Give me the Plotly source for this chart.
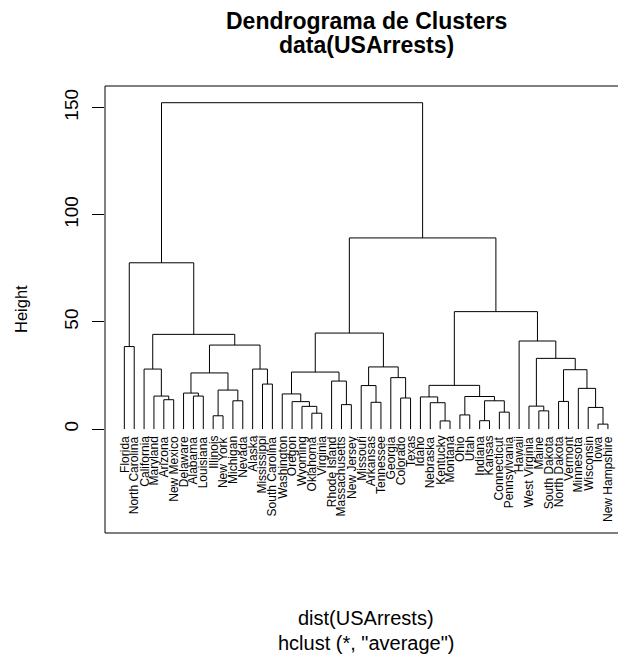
import plotly.graph_objects as go

# ---- data ----
leaf_labels = [
    "Florida", "North Carolina", "California", "Maryland", "Arizona", "New Mexico",
    "Delaware", "Alabama", "Louisiana", "Illinois", "New York", "Michigan", "Nevada",
    "Alaska", "Mississippi", "South Carolina", "Washington", "Oregon", "Wyoming",
    "Oklahoma", "Virginia", "Rhode Island", "Massachusetts", "New Jersey", "Missouri",
    "Arkansas", "Tennessee", "Georgia", "Colorado", "Texas", "Idaho", "Nebraska",
    "Kentucky", "Montana", "Ohio", "Utah", "Indiana", "Kansas", "Connecticut",
    "Pennsylvania", "Hawaii", "West Virginia", "Maine", "South Dakota", "North Dakota",
    "Vermont", "Minnesota", "Wisconsin", "Iowa", "New Hampshire",
]

# merges: a string is a leaf, an int is the index of an earlier merge
merge_left = [
    "Arizona", "Maryland", "California", "Alabama", "Delaware", "Illinois", "Michigan",
    5, 4, "Mississippi", "Alaska", 8, 2, "Florida", 13,
    "Oklahoma", "Wyoming", "Oregon", "Washington", "Massachusetts", "Rhode Island", 18,
    "Arkansas", "Missouri", "Colorado", "Georgia", 23, 21,
    "Kentucky", "Nebraska", "Idaho", "Ohio", "Indiana", "Connecticut", 32, 31, 30,
    "Maine", "West Virginia", "North Dakota", "Iowa", "Wisconsin", "Minnesota", 39, 38,
    "Hawaii", 36, 27, 14,
]
merge_right = [
    "New Mexico", 0, 1, "Louisiana", 3, "New York", "Nevada",
    6, 7, "South Carolina", 9, 10, 11, "North Carolina", 12,
    "Virginia", 15, 16, 17, "New Jersey", 19, 20,
    "Tennessee", 22, "Texas", 24, 25, 26,
    "Montana", 28, 29, "Utah", "Kansas", "Pennsylvania", 33, 34, 35,
    "South Dakota", 37, "Vermont", "New Hampshire", 40, 41, 42, 43,
    44, 45, 46, 47,
]
merge_height = [
    13.7, 15.4, 28.0, 15.4, 16.8, 6.2, 13.2,
    18.2, 26.2, 21.0, 28.0, 39.2, 44.2, 38.5, 77.6,
    7.4, 10.6, 12.8, 16.4, 11.4, 22.4, 26.6,
    12.5, 20.3, 14.5, 24.0, 29.0, 44.8,
    3.8, 12.3, 15.0, 6.6, 3.9, 7.9, 13.2, 15.2, 20.4,
    8.5, 10.7, 12.9, 2.3, 10.1, 19.0, 27.7, 33.0,
    41.1, 54.8, 89.2, 152.3,
]
y_ticks = [0, 50, 100, 150]

title_lines = ["Dendrograma de Clusters", "data(USArrests)"]
x_label = "dist(USArrests)"
sub_label = 'hclust (*, "average")'
y_label = "Height"

# ---- build segment coordinates from the tree ----
leaf_x = {name: i + 1 for i, name in enumerate(leaf_labels)}
node_pos = []


def pos(ref):
    if isinstance(ref, str):
        return leaf_x[ref], 0.0
    return node_pos[ref]


xs, ys = [], []
for a, b, h in zip(merge_left, merge_right, merge_height):
    xa, ya = pos(a)
    xb, yb = pos(b)
    xs += [xa, xa, xb, xb, None]
    ys += [ya, h, h, yb, None]
    node_pos.append(((xa + xb) / 2.0, h))

FONT = "Liberation Sans, Arial, Helvetica, sans-serif"

fig = go.Figure()
fig.add_trace(go.Scatter(
    x=xs, y=ys, mode="lines",
    line=dict(color="black", width=1),
    hoverinfo="skip", showlegend=False,
))

W, H = 618, 659
ml, mr, mt, mb = 105, 0, 86, 126
pw, ph = W - ml - mr, H - mt - mb


def px_x(p):
    return (p - ml) / pw


def px_y(p):
    return (H - mb - p) / ph


annotations = []
for name in leaf_labels:
    annotations.append(dict(
        x=leaf_x[name], y=0, xref="x", yref="y", text=name, showarrow=False,
        textangle=-90, xanchor="center", yanchor="top", yshift=-5,
        font=dict(family=FONT, size=12, color="black"),
    ))

annotations.append(dict(x=px_x(366), y=px_y(21), xref="paper", yref="paper",
                        text=title_lines[0], showarrow=False, xanchor="center",
                        yanchor="middle",
                        font=dict(family=FONT, size=23, color="black", weight="bold")))
annotations.append(dict(x=px_x(366), y=px_y(45.5), xref="paper", yref="paper",
                        text=title_lines[1], showarrow=False, xanchor="center",
                        yanchor="middle",
                        font=dict(family=FONT, size=23, color="black", weight="bold")))
annotations.append(dict(x=px_x(366), y=px_y(618), xref="paper", yref="paper",
                        text=x_label, showarrow=False, xanchor="center", yanchor="middle",
                        font=dict(family=FONT, size=20, color="black")))
annotations.append(dict(x=px_x(366), y=px_y(643), xref="paper", yref="paper",
                        text=sub_label, showarrow=False, xanchor="center", yanchor="middle",
                        font=dict(family=FONT, size=20, color="black")))
annotations.append(dict(x=px_x(21), y=px_y(309), xref="paper", yref="paper",
                        text=y_label, showarrow=False, textangle=-90, xanchor="center",
                        yanchor="middle",
                        font=dict(family=FONT, size=16.5, color="black")))

frame = dict(type="line", xref="paper", yref="paper", line=dict(color="black", width=1))
shapes = [
    dict(frame, x0=0, x1=0, y0=0, y1=1),
    dict(frame, x0=0, x1=1, y0=1, y1=1),
    dict(frame, x0=0, x1=1, y0=0, y1=0),
]

fig.update_layout(
    width=W, height=H,
    margin=dict(l=ml, r=mr, t=mt, b=mb, pad=0),
    paper_bgcolor="white", plot_bgcolor="white",
    showlegend=False,
    hovermode=False,
    annotations=annotations,
    shapes=shapes,
    xaxis=dict(range=[-0.96, 51.02], visible=False, showgrid=False, zeroline=False),
    yaxis=dict(range=[-48.5, 160.1], tickvals=y_ticks, ticktext=[str(v) for v in y_ticks],
               ticks="outside", ticklen=12, tickcolor="black", tickwidth=1,
               tickangle=-90, ticklabelstandoff=6,
               tickfont=dict(family=FONT, size=19, color="black"),
               showgrid=False, zeroline=False, showline=False),
)

fig.write_html(
    "out.html",
    config={"displayModeBar": False, "staticPlot": True},
    post_script="document.body.style.margin='0';document.body.style.overflow='hidden';",
)
